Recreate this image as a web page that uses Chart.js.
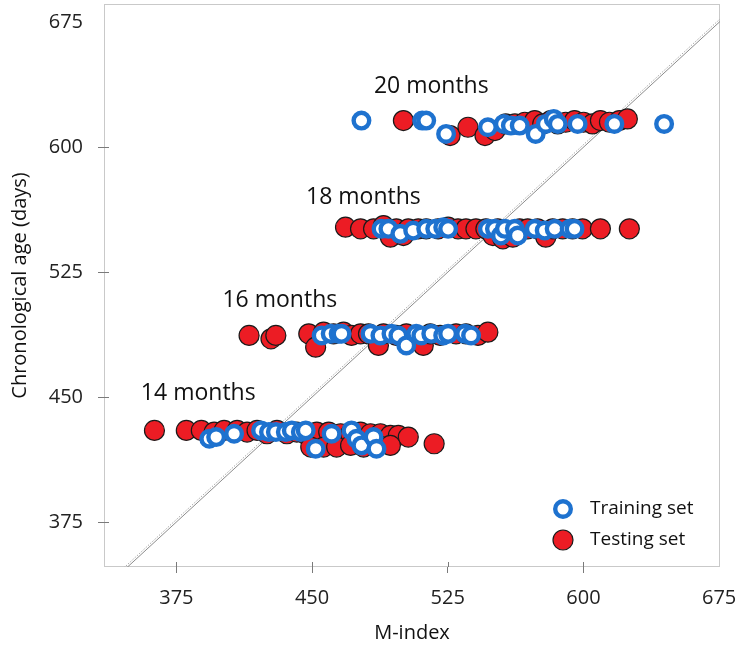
<!DOCTYPE html>
<html>
<head>
<meta charset="utf-8">
<script src="https://cdn.jsdelivr.net/npm/chart.js@4.4.1/dist/chart.umd.min.js"></script>
<style>
  html, body { margin: 0; padding: 0; background: #ffffff; }
  canvas { display: block; }
</style>
</head>
<body>
<canvas id="chart" width="737" height="645"></canvas>
<script>
// Axis tick values
const xTicks = [375, 450, 525, 600, 675];
const yTicks = [375, 450, 525, 600, 675];

// Group captions
const monthLabels = ['14 months', '16 months', '18 months', '20 months'];

// Training set: M-index and chronological age (days), per age group
const trainM14   = [393.2, 397.0, 406.9, 421.8, 426.2, 430.0, 435.5, 438.8, 443.8, 446.5, 452.0, 460.8, 471.8, 474.6, 477.3, 484.0, 485.6];
const trainAge14 = [425, 426, 428, 430, 429, 429, 429, 430, 429, 430, 419, 428, 430, 425, 421, 426, 419];
const trainM16   = [455.3, 460.3, 464.7, 466.3, 482.3, 487.8, 493.9, 497.7, 502.1, 507.6, 510.4, 515.9, 522.5, 525.2, 534.6, 537.9];
const trainAge16 = [487, 488, 488, 488, 488, 487, 488, 487, 481, 488, 487, 488, 487, 488, 488, 487];
const trainM18   = [488.4, 492.2, 498.8, 505.9, 513.1, 518.1, 522.5, 525.2, 547.2, 551.1, 554.4, 556.6, 562.1, 563.7, 573.1, 578.6, 584.1, 592.4, 595.1];
const trainAge18 = [551, 551, 548, 550, 551, 551, 552, 551, 551, 551, 547, 551, 551, 547, 551, 550, 551, 551, 551];
const trainM20   = [477.3, 510.9, 513.1, 524.1, 547.2, 556.0, 559.9, 564.8, 573.6, 579.2, 583.6, 585.8, 596.8, 617.1, 644.6];
const trainAge20 = [616, 616, 616, 608, 612, 614, 613, 613, 608, 614, 617, 614, 614, 614, 614];

// Testing set: M-index and chronological age (days), per age group
const testM14   = [362.9, 380.5, 388.8, 395.9, 401.4, 408.6, 414.1, 419.6, 425.1, 430.6, 436.1, 441.6, 446.0, 452.6, 459.2, 465.8, 471.3, 476.8, 482.3, 487.8, 493.3, 497.7, 503.2, 517.5, 449.3, 456.4, 463.6, 471.3, 478.5, 486.7, 493.3];
const testAge14 = [430, 430, 430, 429, 430, 430, 429, 430, 428, 430, 428, 429, 428, 429, 429, 428, 428, 429, 428, 428, 427, 427, 426, 422, 420, 420, 420, 421, 420, 421, 421];
const testM16   = [415.2, 427.3, 430.0, 448.2, 452.0, 456.4, 461.9, 467.4, 471.8, 476.8, 481.2, 486.7, 489.5, 496.6, 502.1, 507.6, 511.5, 515.3, 520.8, 529.6, 535.1, 541.7, 547.2];
const testAge16 = [487, 485, 487, 488, 480, 489, 488, 489, 487, 488, 488, 481, 488, 487, 488, 487, 481, 488, 487, 488, 488, 487, 489];
const testM18   = [468.5, 476.8, 484.0, 489.5, 493.3, 496.6, 500.5, 503.2, 508.7, 513.1, 519.7, 525.2, 530.7, 535.1, 540.6, 546.1, 550.0, 552.7, 555.5, 561.0, 564.8, 569.2, 574.7, 579.2, 583.0, 588.5, 594.0, 599.5, 609.4, 625.4];
const testAge18 = [552, 551, 551, 553, 546, 551, 547, 551, 551, 551, 551, 552, 551, 551, 551, 551, 547, 551, 545, 546, 551, 551, 551, 546, 551, 551, 551, 551, 551, 551];
const testM20   = [500.5, 526.3, 536.2, 545.6, 551.1, 557.1, 562.1, 567.6, 573.1, 577.5, 581.9, 585.8, 590.2, 595.1, 600.1, 605.0, 609.4, 614.4, 619.9, 624.3];
const testAge20 = [616, 607, 612, 607, 610, 614, 614, 615, 616, 614, 616, 614, 615, 616, 615, 614, 616, 615, 616, 617];

// Reference lines: identity (age = M-index) and fitted line
const lineM       = [330, 680];
const identityAge = [330, 680];
const fitAge      = [331.5, 681.5];

function pairs(xs, ys) { return xs.map((x, i) => ({ x: x, y: ys[i] })); }

const trainingPoints = [].concat(
  pairs(trainM14, trainAge14), pairs(trainM16, trainAge16),
  pairs(trainM18, trainAge18), pairs(trainM20, trainAge20));
const testingPoints = [].concat(
  pairs(testM14, testAge14), pairs(testM16, testAge16),
  pairs(testM18, testAge18), pairs(testM20, testAge20));

// Caption anchors in data units (M-index, age)
const captionPos = [
  { m: 387.1, age: 452.4 },
  { m: 432.2, age: 508.2 },
  { m: 478.4, age: 570.0 },
  { m: 515.9, age: 636.6 }
];

const TRAIN_BLUE = '#1e72cf';
const TEST_RED = '#ec1c24';
const TEXT_FONT = '"Open Sans", "DejaVu Sans", sans-serif';
const TICK_GREY = '#7a7a7a';

// Light frame around the plotting area, with the short inner part of each tick
const framePlugin = {
  id: 'frame',
  beforeDatasetsDraw(chart) {
    const { ctx, chartArea: a, scales } = chart;
    ctx.save();
    ctx.strokeStyle = '#c9c9c9';
    ctx.lineWidth = 1;
    ctx.strokeRect(Math.round(a.left) + 0.5, Math.round(a.top) + 0.5,
                   Math.round(a.right - a.left) - 1, Math.round(a.bottom - a.top) - 1);
    ctx.strokeStyle = TICK_GREY;
    ctx.beginPath();
    scales.x.ticks.forEach(t => {
      if (t.value === 675) return;
      const px = Math.round(scales.x.getPixelForValue(t.value)) + 0.5;
      ctx.moveTo(px, a.bottom);
      ctx.lineTo(px, a.bottom - 5);
    });
    scales.y.ticks.forEach(t => {
      if (t.value === 675) return;
      const py = Math.round(scales.y.getPixelForValue(t.value)) + 0.5;
      ctx.moveTo(a.left, py);
      ctx.lineTo(a.left + 5, py);
    });
    ctx.stroke();
    ctx.restore();
  }
};

// Age-group captions
const captionPlugin = {
  id: 'captions',
  afterDatasetsDraw(chart) {
    const { ctx, scales } = chart;
    ctx.save();
    ctx.font = '23px ' + TEXT_FONT;
    ctx.fillStyle = '#111';
    ctx.textAlign = 'center';
    ctx.textBaseline = 'middle';
    monthLabels.forEach((t, i) => {
      ctx.fillText(t, scales.x.getPixelForValue(captionPos[i].m),
                      scales.y.getPixelForValue(captionPos[i].age));
    });
    ctx.restore();
  }
};

// Legend in the lower-right corner of the plot
const legendPlugin = {
  id: 'cornerLegend',
  afterDatasetsDraw(chart) {
    const { ctx, chartArea: a } = chart;
    const mx = a.right - 157;
    const rows = [
      { y: a.bottom - 58, label: 'Training set', ds: chart.data.datasets[0] },
      { y: a.bottom - 27, label: 'Testing set', ds: chart.data.datasets[1] }
    ];
    ctx.save();
    rows.forEach(r => {
      ctx.beginPath();
      ctx.arc(mx, r.y, r.ds.pointRadius, 0, Math.PI * 2);
      ctx.fillStyle = r.ds.backgroundColor;
      ctx.fill();
      ctx.lineWidth = r.ds.borderWidth;
      ctx.strokeStyle = r.ds.borderColor;
      ctx.stroke();
      ctx.font = '19px ' + TEXT_FONT;
      ctx.fillStyle = '#111';
      ctx.textAlign = 'left';
      ctx.textBaseline = 'middle';
      ctx.fillText(r.label, mx + 27, r.y);
    });
    ctx.restore();
  }
};

const tickMarkColor = (c) => (c.tick && c.tick.value === 675) ? 'rgba(0,0,0,0)' : TICK_GREY;

new Chart(document.getElementById('chart'), {
  type: 'scatter',
  data: {
    datasets: [
      {
        label: 'Training set',
        data: trainingPoints,
        pointRadius: 7.8,
        pointHoverRadius: 7.8,
        backgroundColor: '#ffffff',
        borderColor: TRAIN_BLUE,
        borderWidth: 4.4
      },
      {
        label: 'Testing set',
        data: testingPoints,
        pointRadius: 10,
        pointHoverRadius: 10,
        backgroundColor: TEST_RED,
        borderColor: '#1a1a1a',
        borderWidth: 1.2
      },
      {
        label: 'Fit',
        type: 'line',
        data: pairs(lineM, fitAge),
        borderColor: '#a8a8a8',
        borderWidth: 1,
        borderDash: [1.5, 1.5],
        pointRadius: 0,
        fill: false
      },
      {
        label: 'Identity',
        type: 'line',
        data: pairs(lineM, identityAge),
        borderColor: '#8c8c8c',
        borderWidth: 1,
        pointRadius: 0,
        fill: false
      }
    ]
  },
  options: {
    responsive: false,
    animation: false,
    events: [],
    devicePixelRatio: 1,
    layout: { autoPadding: false, padding: { top: 4, right: 17, bottom: 0, left: 0 } },
    plugins: {
      legend: { display: false },
      tooltip: { enabled: false }
    },
    scales: {
      x: {
        type: 'linear',
        min: 335,
        max: 675.5,
        afterBuildTicks: (s) => { s.ticks = xTicks.map(v => ({ value: v })); },
        afterFit: (s) => { s.height = 78; s.paddingLeft = 0; s.paddingRight = 0; },
        border: { display: false },
        grid: { drawOnChartArea: false, drawTicks: true, tickLength: 6, tickColor: tickMarkColor, tickWidth: 1 },
        ticks: { padding: 13, color: '#222', font: { family: TEXT_FONT, size: 20 }, maxRotation: 0 },
        title: { display: true, text: 'M-index', color: '#111', font: { family: TEXT_FONT, size: 20 }, padding: { top: 0, bottom: 0 } }
      },
      y: {
        type: 'linear',
        min: 348,
        max: 686,
        afterBuildTicks: (s) => { s.ticks = yTicks.map(v => ({ value: v })); },
        afterFit: (s) => { s.width = 104; s.paddingTop = 0; s.paddingBottom = 0; },
        border: { display: false },
        grid: { drawOnChartArea: false, drawTicks: true, tickLength: 6, tickColor: tickMarkColor, tickWidth: 1 },
        ticks: { padding: 15, color: '#222', font: { family: TEXT_FONT, size: 20 } },
        title: { display: true, text: 'Chronological age (days)', color: '#111', font: { family: TEXT_FONT, size: 20 }, padding: { top: 8, bottom: 0 } }
      }
    }
  },
  plugins: [framePlugin, captionPlugin, legendPlugin]
});
</script>
</body>
</html>
